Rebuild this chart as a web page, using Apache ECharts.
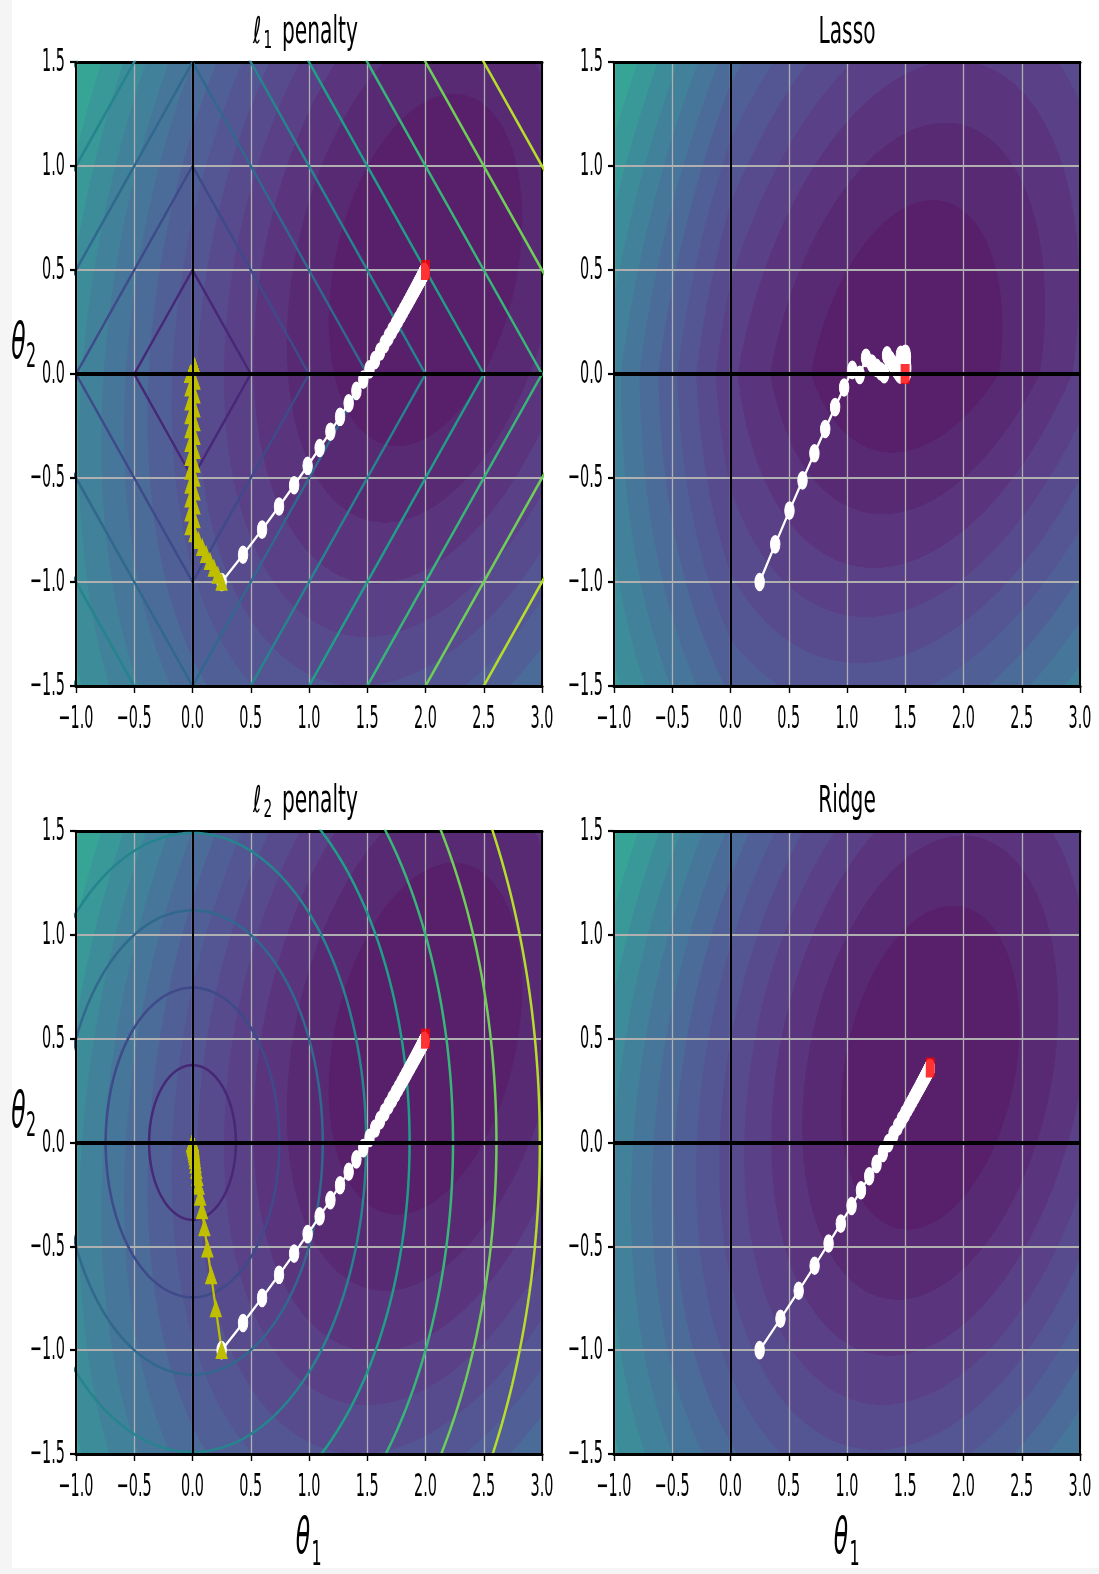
<!DOCTYPE html>
<html><head><meta charset="utf-8">
<script src="https://cdn.jsdelivr.net/npm/echarts@6/dist/echarts.min.js"></script>
<style>
html,body{margin:0;padding:0;background:#f5f5f5;}
#paper{position:absolute;left:12px;top:0;width:1087px;height:1568px;background:#fff;}
#c{position:absolute;left:0;top:0;width:1099px;height:1574px;}
</style>
</head><body><div id="paper"></div><div id="c"></div>
<script>
// ---------- data ----------
const sampleX0 = [-1, -0.3, 1];
const sampleX1 = [1, -1, 0.1];
const trueTheta = [2, 0.5];
const lassoAlpha = 0.5;
const ridgeAlpha = 0.1;

const xTicks = [-1, -0.5, 0, 0.5, 1, 1.5, 2, 2.5, 3];
const xTickLabels = ['\u22121.0','\u22120.5','0.0','0.5','1.0','1.5','2.0','2.5','3.0'];
const yTicks = [-1.5, -1, -0.5, 0, 0.5, 1, 1.5];
const yTickLabels = ['\u22121.5','\u22121.0','\u22120.5','0.0','0.5','1.0','1.5'];

const penaltyLevelsL1 = [0.5, 1.0, 1.5, 2.0, 2.5, 3.0, 3.5, 4.0, 4.5];
const penaltyLevelsL2 = [0.3727, 0.7454, 1.118, 1.4907, 1.8634, 2.2361, 2.6088, 2.9815, 3.3541];

const pathJ = [[0.25,-1],[0.4339,-0.869],[0.5973,-0.7482],[0.7427,-0.6371],[0.8725,-0.5349],[0.9882,-0.4414],[1.0915,-0.3558],[1.1838,-0.2774],[1.2665,-0.2058],[1.3404,-0.1407],[1.4067,-0.0812],[1.4661,-0.027],[1.5194,0.0223],[1.5674,0.0671],[1.6104,0.1079],[1.6489,0.1449],[1.6836,0.1783],[1.7147,0.2087],[1.7429,0.2364],[1.7681,0.2614],[1.7908,0.284],[1.8114,0.3047],[1.8298,0.3232],[1.8465,0.3402],[1.8615,0.3554],[1.8751,0.3693],[1.8872,0.3818],[1.8982,0.3932],[1.9081,0.4033],[1.9171,0.4126],[1.9252,0.421],[1.9325,0.4286],[1.9389,0.4354],[1.9449,0.4417],[1.9503,0.4473],[1.955,0.4524],[1.9594,0.457],[1.9634,0.4611],[1.9669,0.4648],[1.9702,0.4683],[1.973,0.4713],[1.9757,0.4741],[1.9781,0.4766],[1.9801,0.4788],[1.982,0.4808],[1.9837,0.4826],[1.9854,0.4844],[1.9869,0.4859],[1.9881,0.4873],[1.9892,0.4885],[1.9903,0.4896]];

const pathLasso = [[0.25,-1],[0.3838,-0.819],[0.5062,-0.6569],[0.6181,-0.5116],[0.7202,-0.3813],[0.8133,-0.2644],[0.8981,-0.1594],[0.9753,-0.0651],[1.0455,0.0196],[1.1093,-0.0042],[1.1632,0.0777],[1.2129,0.0508],[1.2546,0.0295],[1.2897,0.0127],[1.3192,-0.0004],[1.344,0.0894],[1.369,0.0682],[1.3897,0.0508],[1.4068,0.0366],[1.4209,0.025],[1.4326,0.0155],[1.4423,0.0077],[1.4503,0.0014],[1.457,-0.0038],[1.4625,0.092],[1.4711,0.0752],[1.4778,0.061],[1.483,0.0489],[1.487,0.0387],[1.49,0.03],[1.4923,0.0226],[1.494,0.0163],[1.4952,0.0109],[1.496,0.0062],[1.4965,0.0022],[1.4968,-0.0012],[1.4969,0.0958],[1.5008,0.0798],[1.5036,0.0661],[1.5054,0.0544],[1.5065,0.0443],[1.507,0.0356],[1.5071,0.0281],[1.5069,0.0216],[1.5065,0.016],[1.5059,0.0111],[1.5052,0.0069],[1.5044,0.0032],[1.5036,-0.0001],[1.5028,0.0971],[1.506,0.0812]];

const pathRidge = [[0.25,-1],[0.4289,-0.8489],[0.5852,-0.7139],[0.7219,-0.5937],[0.8419,-0.4863],[0.9469,-0.3907],[1.0392,-0.3056],[1.12,-0.2299],[1.1909,-0.1627],[1.2534,-0.103],[1.3082,-0.0499],[1.3564,-0.003],[1.3989,0.039],[1.4362,0.0759],[1.4691,0.1087],[1.4979,0.1377],[1.5235,0.1635],[1.5459,0.1862],[1.5657,0.2064],[1.5831,0.2243],[1.5985,0.2402],[1.6122,0.2542],[1.6241,0.2666],[1.6346,0.2774],[1.644,0.2872],[1.6522,0.2957],[1.6595,0.3033],[1.6657,0.3099],[1.6714,0.3157],[1.6765,0.321],[1.6809,0.3256],[1.6848,0.3298],[1.6883,0.3335],[1.6912,0.3367],[1.6938,0.3394],[1.6963,0.3421],[1.6983,0.3443],[1.7001,0.3461],[1.7017,0.3479],[1.7032,0.3495],[1.7045,0.3508],[1.7056,0.352],[1.7065,0.353],[1.7075,0.354],[1.7081,0.3547],[1.7088,0.3555],[1.7095,0.3562],[1.71,0.3568],[1.7105,0.3572],[1.7109,0.3577],[1.7113,0.3581]];

const pathL1 = [[0.25,-1],[0.2167,-0.9667],[0.1833,-0.9333],[0.15,-0.9],[0.1167,-0.8667],[0.0833,-0.8333],[0.05,-0.8],[0.0167,-0.7667],[-0.0167,-0.7333],[0.0167,-0.7],[-0.0167,-0.6667],[0.0167,-0.6333],[-0.0167,-0.6],[0.0167,-0.5667],[-0.0167,-0.5333],[0.0167,-0.5],[-0.0167,-0.4667],[0.0167,-0.4333],[-0.0167,-0.4],[0.0167,-0.3667],[-0.0167,-0.3333],[0.0167,-0.3],[-0.0167,-0.2667],[0.0167,-0.2333],[-0.0167,-0.2],[0.0167,-0.1667],[-0.0167,-0.1333],[0.0167,-0.1],[-0.0167,-0.0667],[0.0167,-0.0333],[-0.0167,0.0],[0.0167,0.0333],[-0.0167,0.0],[0.0167,0.0333],[-0.0167,0.0],[0.0167,0.0333],[-0.0167,0.0],[0.0167,0.0333],[-0.0167,0.0],[0.0167,0.0333],[-0.0167,0.0],[0.0167,0.0333],[-0.0167,0.0],[0.0167,0.0333],[-0.0167,0.0],[0.0167,0.0333],[-0.0167,0.0],[0.0167,0.0333],[-0.0167,0.0],[0.0167,0.0333],[-0.0167,0.0]];

const pathL2 = [[0.25,-1],[0.2,-0.8],[0.16,-0.64],[0.128,-0.512],[0.1024,-0.4096],[0.0819,-0.3277],[0.0655,-0.2621],[0.0524,-0.2097],[0.0419,-0.1678],[0.0336,-0.1342],[0.0268,-0.1074],[0.0215,-0.0859],[0.0172,-0.0687],[0.0137,-0.055],[0.011,-0.044],[0.0088,-0.0352],[0.007,-0.0281],[0.0056,-0.0225],[0.0045,-0.018],[0.0036,-0.0144],[0.0029,-0.0115],[0.0023,-0.0092],[0.0018,-0.0074],[0.0015,-0.0059],[0.0012,-0.0047],[0.0009,-0.0038],[0.0008,-0.003],[0.0006,-0.0024],[0.0005,-0.0019],[0.0004,-0.0015],[0.0003,-0.0012]];

const minJ = [[2.0, 0.5]];
const minLasso = [[1.499, 0.0]];
const minRidge = [[1.715, 0.361]];

// ---------- helpers ----------
const VIRIDIS = [[68,1,84],[72,24,106],[71,45,123],[66,64,134],[59,82,139],[51,99,141],[44,114,142],[38,130,142],[33,145,140],[31,160,136],[40,174,128],[63,188,115],[94,201,98],[132,212,75],[173,220,48],[216,226,25],[253,231,37]];
function viridis(t){ t=Math.max(0,Math.min(1,t)); const p=t*16; const i=Math.min(15,Math.floor(p)); const f=p-i; const a=VIRIDIS[i], b=VIRIDIS[i+1]; return [0,1,2].map(j=>a[j]+(b[j]-a[j])*f); }
function rgbStr(c, alpha){ const m=c.map(v=>Math.round(v*alpha+255*(1-alpha))); return 'rgb('+m[0]+','+m[1]+','+m[2]+')'; }

function mse(t1,t2){ let s=0; for(let i=0;i<sampleX0.length;i++){ const yi=trueTheta[0]*sampleX0[i]+trueTheta[1]*sampleX1[i]; const r=t1*sampleX0[i]+t2*sampleX1[i]-yi; s+=r*r; } return s/sampleX0.length; }
const costFns = [
  mse,
  (a,b)=>mse(a,b)+lassoAlpha*(Math.abs(a)+Math.abs(b)),
  mse,
  (a,b)=>mse(a,b)+ridgeAlpha*(a*a+b*b)
];

function makeBands(fn, NR){
  let mn=Infinity,mx=-Infinity;
  for(let i=0;i<500;i++){ const t2=-1.5+3*i/499; for(let j=0;j<500;j++){ const t1=-1+4*j/499; const v=fn(t1,t2); if(v<mn)mn=v; if(v>mx)mx=v; } }
  const levels=[]; for(let k=0;k<20;k++) levels.push((Math.exp(k/19)-1)*(mx-mn)+mn);
  const colors=[]; for(let k=0;k<19;k++){ const mid=(levels[k]+levels[k+1])/2; colors.push(rgbStr(viridis((mid-levels[0])/(levels[19]-levels[0])),0.9)); }
  const NC=932; const rows=[];
  for(let r=0;r<NR;r++){
    const yTop=1.5-3*r/NR, yBot=1.5-3*(r+1)/NR, yc=(yTop+yBot)/2;
    const runs=[]; let cur=null, start=0;
    for(let c=0;c<NC;c++){
      const t1=-1+4*(c+0.5)/NC; const v=fn(t1,yc);
      let k=0; while(k<18 && v>=levels[k+1]) k++;
      if(cur===null){cur=k;start=c;}
      else if(k!==cur){ runs.push([-1+4*start/NC,-1+4*c/NC,cur]); cur=k; start=c; }
    }
    runs.push([-1+4*start/NC,3,cur]);
    rows.push({yTop,yBot,yc,runs});
  }
  return {rows,colors};
}

const grids = [
  {left:76, top:62, width:466, height:624},
  {left:614, top:62, width:466, height:624},
  {left:76, top:831, width:466, height:623},
  {left:614, top:831, width:466, height:623}
];

const xAxes=[], yAxes=[];
grids.forEach((g,gi)=>{
  xAxes.push({gridIndex:gi,type:'value',min:-1,max:3,interval:0.5,position:'bottom',z:5,
    axisLine:{show:true,onZero:false,lineStyle:{color:'#000',width:3}},
    axisTick:{show:true,length:7,lineStyle:{color:'#000',width:1.4}},
    axisLabel:{show:false},splitLine:{show:false}});
  xAxes.push({gridIndex:gi,type:'value',min:-1,max:3,interval:0.5,position:'top',z:1,
    axisLine:{show:true,onZero:false,lineStyle:{color:'#000',width:3}},
    axisTick:{show:false},axisLabel:{show:false},
    splitLine:{show:true,lineStyle:{color:'#b0b0b0',width:1.3}}});
  yAxes.push({gridIndex:gi,type:'value',min:-1.5,max:1.5,interval:0.5,position:'left',z:5,
    axisLine:{show:true,onZero:false,lineStyle:{color:'#000',width:2}},
    axisTick:{show:true,length:6,lineStyle:{color:'#000',width:2.2}},
    axisLabel:{show:false},splitLine:{show:false}});
  yAxes.push({gridIndex:gi,type:'value',min:-1.5,max:1.5,interval:0.5,position:'right',z:1,
    axisLine:{show:true,onZero:false,lineStyle:{color:'#000',width:2}},
    axisTick:{show:false},axisLabel:{show:false},
    splitLine:{show:true,lineStyle:{color:'#b0b0b0',width:2.2}}});
});

const series=[];
function ax(gi){ return {xAxisIndex:2*gi,yAxisIndex:2*gi}; }

function bgSeries(gi){
  const {rows,colors}=makeBands(costFns[gi], grids[gi].height);
  return Object.assign({type:'custom',z:0,silent:true,clip:true,animation:false,
    data:rows.map(r=>[-1,r.yc]),encode:{x:0,y:1},
    renderItem:(params,api)=>{
      const row=rows[params.dataIndex]; const children=[];
      for(const run of row.runs){
        const p0=api.coord([run[0],row.yTop]); const p1=api.coord([run[1],row.yBot]);
        children.push({type:'rect',shape:{x:p0[0],y:p0[1],width:p1[0]-p0[0]+0.7,height:p1[1]-p0[1]+0.7},style:{fill:colors[run[2]]},silent:true});
      }
      return {type:'group',children};
    }}, ax(gi));
}
function axLines(gi){
  return Object.assign({type:'line',data:[],z:2,silent:true,animation:false,
    markLine:{silent:true,symbol:['none','none'],label:{show:false},animation:false,
      data:[{yAxis:0,lineStyle:{color:'#000',width:4,type:'solid'}},{xAxis:0,lineStyle:{color:'#000',width:2,type:'solid'}}]}},ax(gi));
}
function diamond(c){ return [[c,0],[0,c],[-c,0],[0,-c],[c,0]]; }
function circle(r){ const p=[]; for(let i=0;i<=360;i++){ const a=i*Math.PI/180; p.push([r*Math.cos(a),r*Math.sin(a)]); } return p; }
function penaltySeries(gi, levels, shapeFn){
  return levels.slice(0,8).map((c,i)=>Object.assign({type:'line',data:shapeFn(c),showSymbol:false,symbol:'none',z:3,silent:true,animation:false,clip:true,
    lineStyle:{color:rgbStr(viridis((i+1)/9),1),width:2.5}},ax(gi)));
}
function pathSeries(gi,data,color,symbol,size){
  return Object.assign({type:'line',data,symbol,symbolSize:size,showSymbol:true,z:4,silent:true,animation:false,clip:true,
    itemStyle:{color:color,borderColor:color,borderWidth:1.2},lineStyle:{color:color,width:2.3}},ax(gi));
}
function minSeries(gi,data){
  return Object.assign({type:'scatter',data,symbol:'rect',symbolSize:[9,20],z:4.5,silent:true,animation:false,
    itemStyle:{color:'#ff0000'}},ax(gi));
}
function tickLabels(gi){
  const base=Object.assign({type:'custom',clip:false,z:6,silent:true,animation:false,encode:{x:0,y:1}},ax(gi));
  return [
    Object.assign({},base,{data:xTicks.map(v=>[v,yTicks[0]]),renderItem:(params,api)=>{
      const i=params.dataIndex; const p=api.coord([xTicks[i],yTicks[0]]);
      return {type:'text',x:p[0],y:p[1]+34,scaleX:0.45,style:{text:xTickLabels[i],fill:'#000',fontSize:32,fontFamily:'DejaVu Sans',align:'center',verticalAlign:'middle'}};
    }}),
    Object.assign({},base,{data:yTicks.map(v=>[xTicks[0],v]),renderItem:(params,api)=>{
      const i=params.dataIndex; const p=api.coord([xTicks[0],yTicks[i]]);
      return {type:'text',x:p[0]-11,y:p[1]+1,scaleX:0.45,style:{text:yTickLabels[i],fill:'#000',fontSize:32,fontFamily:'DejaVu Sans',align:'right',verticalAlign:'middle'}};
    }})
  ];
}

const WHITE='#ffffff', YEL='#bfbf00';
const DOT=[9.5,17], TRI=[11,16];
// top-left: l1 penalty
series.push(bgSeries(0), axLines(0), ...penaltySeries(0,penaltyLevelsL1,diamond),
  pathSeries(0,pathJ,WHITE,'circle',DOT), pathSeries(0,pathL1,YEL,'triangle',TRI), minSeries(0,minJ), ...tickLabels(0));
// top-right: Lasso
series.push(bgSeries(1), axLines(1), pathSeries(1,pathLasso,WHITE,'circle',DOT), minSeries(1,minLasso), ...tickLabels(1));
// bottom-left: l2 penalty
series.push(bgSeries(2), axLines(2), ...penaltySeries(2,penaltyLevelsL2,circle),
  pathSeries(2,pathJ,WHITE,'circle',DOT), pathSeries(2,pathL2,YEL,'triangle',TRI), minSeries(2,minJ), ...tickLabels(2));
// bottom-right: Ridge
series.push(bgSeries(3), axLines(3), pathSeries(3,pathRidge,WHITE,'circle',DOT), minSeries(3,minRidge), ...tickLabels(3));

function T(x,y,text,size,sx,align,italic){
  return {type:'text',x,y,scaleX:sx,silent:true,z:100,
    style:{text,fill:'#000',fontSize:size,fontFamily:'DejaVu Sans',fontStyle:italic?'italic':'normal',align,verticalAlign:'middle'}};
}
const TS=0.546;
const graphic=[
  T(253,33,'\u2113',37,TS,'left'), T(263.5,41,'1',25,TS,'left'), T(282,33,'penalty',37,TS,'left'),
  T(847,33,'Lasso',37,TS,'center'),
  T(253,802,'\u2113',37,TS,'left'), T(263.5,810,'2',25,TS,'left'), T(282,802,'penalty',37,TS,'left'),
  T(847,802,'Ridge',37,TS,'center'),
  T(18.5,345,'\u03b8',50,0.47,'center',true), T(31,358,'2',34,0.47,'center'),
  T(18.5,1114,'\u03b8',50,0.47,'center',true), T(31,1127,'2',34,0.47,'center'),
  T(303,1540,'\u03b8',50,0.47,'center',true), T(316.5,1556,'1',34,0.47,'center'),
  T(841,1540,'\u03b8',50,0.47,'center',true), T(854.5,1556,'1',34,0.47,'center')
];

const chart=echarts.init(document.getElementById('c'),null,{renderer:'canvas',width:1099,height:1574});
chart.setOption({
  animation:false,
  backgroundColor:'transparent',
  grid:grids.map(g=>Object.assign({show:false,containLabel:false,outerBoundsMode:'none'},g)),
  xAxis:xAxes, yAxis:yAxes,
  series, graphic
});
</script></body></html>
